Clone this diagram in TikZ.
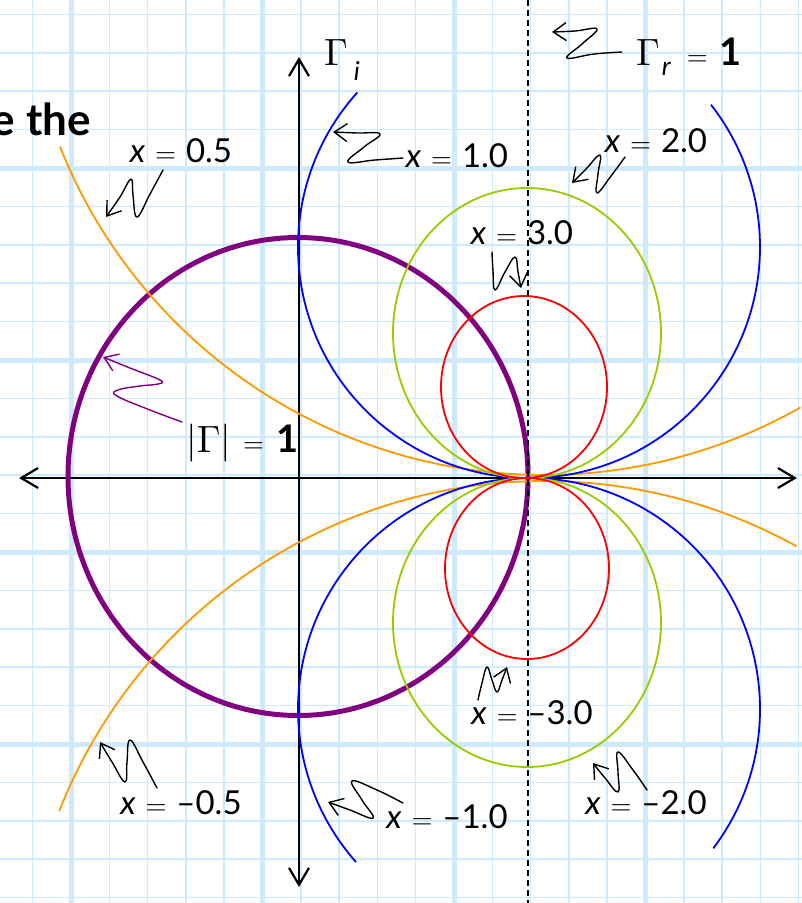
\documentclass[tikz,border=0pt]{standalone}
\usepackage{fontspec}
\setmainfont{Lato}
\usetikzlibrary{arrows.meta}
\definecolor{gridc}{RGB}{206,234,252}
\definecolor{cblue}{RGB}{0,0,255}
\definecolor{corange}{RGB}{255,153,0}
\definecolor{cgreen}{RGB}{153,204,0}
\definecolor{cred}{RGB}{255,0,0}
\definecolor{cpurple}{RGB}{128,0,128}
\newcommand\myeq{\scalebox{2.7}{\normalsize$=$}}
\newcommand\mygam{\scalebox{3.8}{\normalsize$\Gamma$}}
\newcommand\xeq[1]{{\itshape x}\hspace{0.3em}\myeq\hspace{0.3em}#1}
\begin{document}
\begin{tikzpicture}[x=1pt,y=-1pt,line join=round,
  thingrid/.style={gridc,line width=1.5pt},
  thickgrid/.style={gridc,line width=5pt},
  curve/.style={line width=1.8pt},
  axisline/.style={line width=2.4pt,line cap=round,
    {Straight Barb[length=17pt,width=20pt,line width=2.2pt]}-{Straight Barb[length=17pt,width=20pt,line width=2.2pt]}},
  squig/.style={line width=1.4pt,line cap=round,-{Straight Barb[length=13pt,width=18pt,line width=1.4pt]}},
  lab/.style={font=\fontsize{33}{37}\selectfont,inner sep=0pt}]
\useasboundingbox (0,0) rectangle (802,903);
\fill[white] (0,0) rectangle (802,903);
% grid
\foreach \i in {-1,...,19} {\draw[thingrid] ({71+38.3*\i},0) -- ({71+38.3*\i},903);}
\foreach \j in {-4,...,19} {\draw[thingrid] (0,{168+38.4*\j}) -- (802,{168+38.4*\j});}
\foreach \xx in {71,262.5,454,645.5} {\draw[thickgrid] (\xx,0) -- (\xx,903);}
\foreach \yy in {168,360,552,744} {\draw[thickgrid] (0,\yy) -- (802,\yy);}
% axes
\coordinate (xl) at (19,478); \coordinate (xr) at (797,478);
\coordinate (yt) at (299,57); \coordinate (yb) at (299,887);
\draw[axisline] (xl) -- (xr);
\draw[axisline] (yb) -- (yt);
\begin{scope}
\clip (0,0) rectangle (802,903);
% unit circle
\draw[cpurple,line width=5pt] (298,476.5) ellipse [x radius=230pt,y radius=239pt];
% x = +-0.5
\coordinate (co1) at (544,-46); \coordinate (co2) at (544,1002);
\draw[curve,corange] ([shift={(201.7:521pt)}]co1) arc[start angle=201.7,end angle=299.5,radius=521pt];
\draw[curve,corange] ([shift={(61:521pt)}]co2) arc[start angle=61,end angle=158.5,radius=521pt];
% x = +-1
\coordinate (cb1) at (529,247); \coordinate (cb2) at (529,709);
\draw[curve,cblue] ([shift={(138:231pt)}]cb1) arc[start angle=138,end angle=398,radius=231pt];
\draw[curve,cblue] ([shift={(-37.1:231pt)}]cb2) arc[start angle=-37.1,end angle=221.5,radius=231pt];
% x = +-2
\draw[curve,cgreen] (527,333) ellipse [x radius=134pt,y radius=145pt];
\draw[curve,cgreen] (527,622.5) ellipse [x radius=134pt,y radius=144.5pt];
% x = +-3
\draw[curve,cred] (524,387) ellipse [x radius=83pt,y radius=91pt];
\draw[curve,cred] (527,568.5) ellipse [x radius=82pt,y radius=90.5pt];
\end{scope}
% dashed Gamma_r = 1
\coordinate (dt) at (528,0); \coordinate (db) at (528,903);
\draw[dashed,dash pattern=on 6pt off 4pt,line width=1.5pt] (dt) -- (db);
% labels
\node[lab,anchor=base east] (eth) at (91,135) {\fontsize{44}{48}\selectfont\bfseries e the};
\node[inner sep=0pt,anchor=base west] (gi) at (324,65) {\mygam\hspace{6pt}\raisebox{-15pt}{\fontsize{26}{28}\selectfont\itshape i}};
\node[inner sep=0pt,anchor=base west] (gr) at (636,65) {\mygam\hspace{2pt}\raisebox{-10pt}{\fontsize{26}{28}\selectfont\itshape r}\hspace{16pt}\myeq\hspace{12pt}{\fontsize{38}{40}\selectfont\bfseries 1}};
\node[inner sep=0pt,anchor=base west] (gm) at (186,452) {\scalebox{3.8}{\normalsize$|\Gamma|$}\hspace{12pt}\myeq\hspace{12pt}{\fontsize{38}{40}\selectfont\bfseries 1}};
\node[lab] (l05) at (181,151) {\xeq{0.5}};
\node[lab] (l10) at (457,156) {\xeq{1.0}};
\node[lab] (l20) at (656,141) {\xeq{2.0}};
\node[lab] (l30) at (522,233) {\xeq{3.0}};
\node[lab] (lm05) at (181,803) {\xeq{–0.5}};
\node[lab] (lm10) at (447,817) {\xeq{–1.0}};
\node[lab] (lm30) at (532,713) {\xeq{–3.0}};
\node[lab] (lm20) at (646,803) {\xeq{–2.0}};
% squiggle pointers
\coordinate (s1) at (163,170); \coordinate (t1) at (106,217);
\draw[squig] plot[smooth,tension=0.7] coordinates {(s1) (150,194) (137,217) (133,195) (131,179) (120,197) (t1)};
\coordinate (s2) at (403,158); \coordinate (t2) at (333,132);
\draw[squig] plot[smooth,tension=0.7] coordinates {(s2) (375,160) (348,162) (364,147) (380,134) (357,133) (t2)};
\coordinate (s3) at (622,52); \coordinate (t3) at (552,32);
\draw[squig] plot[smooth,tension=0.7] coordinates {(s3) (594,54) (567,58) (582,44) (597,29) (575,31) (t3)};
\coordinate (s4) at (625,157); \coordinate (t4) at (572,183);
\draw[squig] plot[smooth,tension=0.7] coordinates {(s4) (611,176) (597,193) (598,174) (600,155) (586,169) (t4)};
\coordinate (s5) at (492,252); \coordinate (t5) at (521,288);
\draw[squig] plot[smooth,tension=0.7] coordinates {(s5) (493,271) (495,290) (505,272) (515,257) (518,272) (t5)};
\coordinate (s6) at (182,422); \coordinate (t6) at (103,357);
\draw[squig,cpurple] plot[smooth,tension=0.7] coordinates {(s6) (150,410) (117,396) (118,390) (140,386) (158,384) (160,380) (130,368) (t6)};
\coordinate (s7) at (157,788); \coordinate (t7) at (100,742);
\draw[squig] plot[smooth,tension=0.7] coordinates {(s7) (143,762) (130,740) (127,762) (125,782) (112,762) (t7)};
\coordinate (s8) at (403,803); \coordinate (t8) at (328,802);
\draw[squig] plot[smooth,tension=0.7] coordinates {(s8) (377,790) (352,781) (362,800) (373,818) (350,810) (t8)};
\coordinate (s9) at (478,700); \coordinate (t9) at (507,667);
\draw[squig] plot[smooth,tension=0.7] coordinates {(s9) (482,683) (487,667) (492,680) (497,692) (502,680) (t9)};
\coordinate (s10) at (647,790); \coordinate (t10) at (593,763);
\draw[squig] plot[smooth,tension=0.7] coordinates {(s10) (633,770) (618,752) (618,772) (618,792) (605,778) (t10)};
\end{tikzpicture}
\end{document}
